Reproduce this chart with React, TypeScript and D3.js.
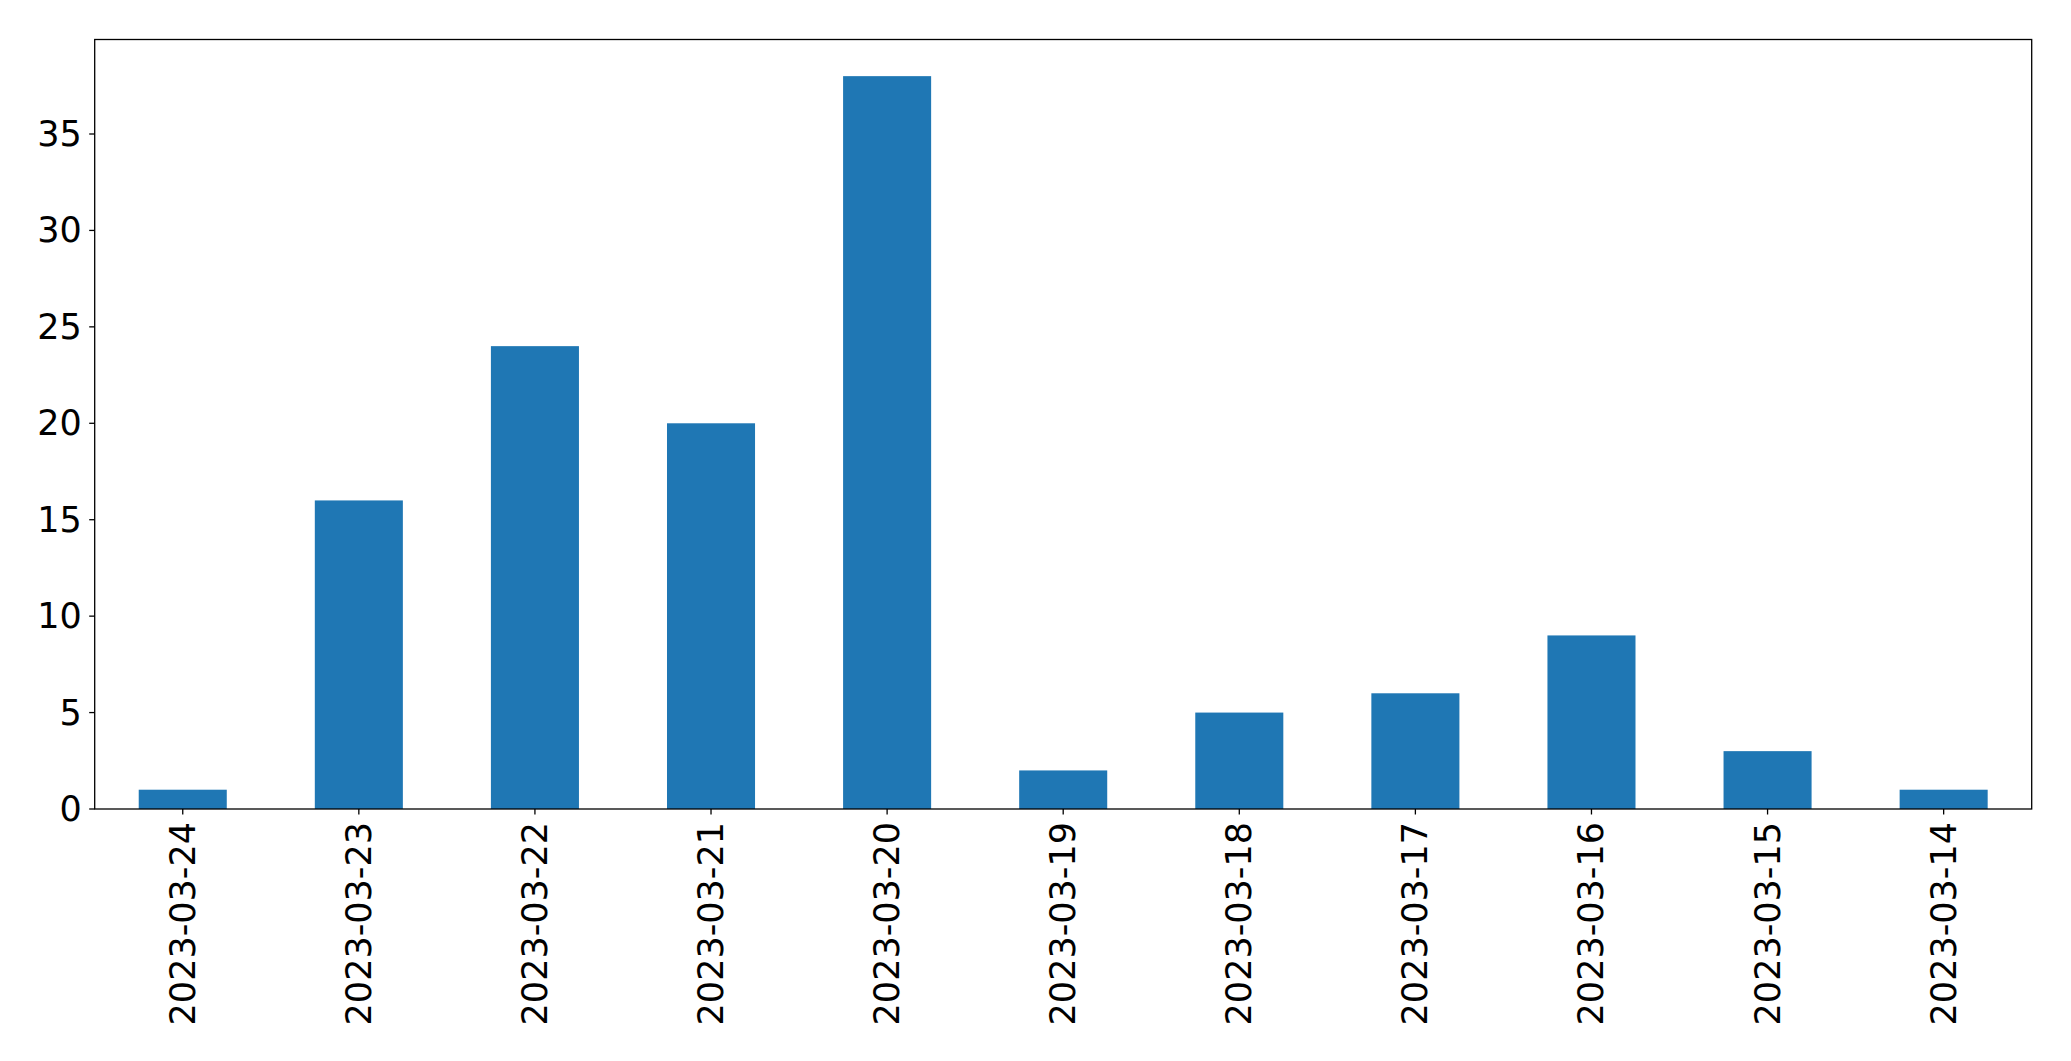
import React from "react";
import * as d3 from "d3";

const categories = ["2023-03-24","2023-03-23","2023-03-22","2023-03-21","2023-03-20","2023-03-19","2023-03-18","2023-03-17","2023-03-16","2023-03-15","2023-03-14"];
const values = [1, 16, 24, 20, 38, 2, 5, 6, 9, 3, 1];
const yTicks = [0, 5, 10, 15, 20, 25, 30, 35];

const W = 2071, H = 1061;
const left = 94.7, right = 2031.7, top = 39.5, bottom = 809;
const FS = 35;

export default function App() {
  const x = d3.scaleLinear().domain([-0.5, categories.length - 0.5]).range([left, right]);
  const y = d3.scaleLinear().domain([0, d3.max(values)! * 1.05]).range([bottom, top]);
  const bw = x(0.25) - x(-0.25);
  return (
    <svg width={W} height={H} style={{ position: "absolute", left: 0, top: 0, background: "#fff" }}
      fontFamily="DejaVu Sans">
      <rect width={W} height={H} fill="#fff" />
      {values.map((v, i) => (
        <rect key={i} x={x(i) - bw / 2} y={y(v)} width={bw} height={y(0) - y(v)} fill="#1f77b4" />
      ))}
      <rect x={left} y={top} width={right - left} height={bottom - top} fill="none" stroke="#000" strokeWidth={1.3} />
      {yTicks.map(t => (
        <g key={t}>
          <line x1={left - 5.5} x2={left} y1={y(t)} y2={y(t)} stroke="#000" strokeWidth={1.3} />
          <text x={left - 13} y={y(t)} textAnchor="end" dominantBaseline="central" fontSize={FS}>{t}</text>
        </g>
      ))}
      {categories.map((c, i) => (
        <g key={c}>
          <line x1={x(i)} x2={x(i)} y1={bottom} y2={bottom + 5.5} stroke="#000" strokeWidth={1.3} />
          <text transform={`translate(${x(i)},${bottom + 13}) rotate(-90)`} textAnchor="end"
            dominantBaseline="central" fontSize={FS}>{c}</text>
        </g>
      ))}
    </svg>
  );
}
